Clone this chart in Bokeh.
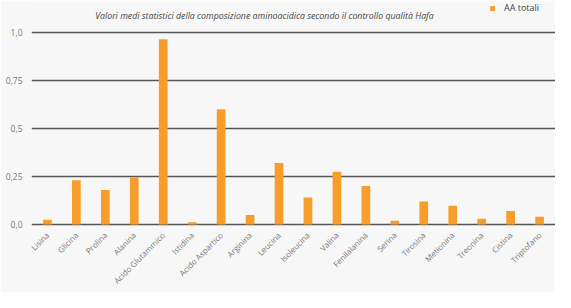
import math
from bokeh.plotting import figure
from bokeh.models import (ColumnDataSource, FactorRange, Range1d, FixedTicker,
                          Label, Legend, LegendItem)
from bokeh.embed import file_html
from bokeh.resources import INLINE

categories = ["Lisina", "Glicina", "Prolina", "Alanina", "Acido Glutammico",
              "Istidina", "Acido Aspartico", "Arginina", "Leucina", "Isoleucina",
              "Valina", "Fenilalanina", "Serina", "Tirosina", "Metionina",
              "Treonina", "Cistina", "Triptofano"]
aa_totali = [0.025, 0.23, 0.18, 0.245, 0.965, 0.012, 0.60, 0.05, 0.32, 0.14,
             0.275, 0.20, 0.02, 0.12, 0.098, 0.03, 0.07, 0.04]
y_ticks = [0.0, 0.25, 0.5, 0.75, 1.0]
y_tick_labels = ["0,0", "0,25", "0,5", "0,75", "1,0"]
subtitle = "Valori medi statistici della composizione aminoacidica secondo il controllo qualità Hafa"
series_name = "AA totali"

BG = "#f7f7f7"
ORANGE = "#f79d2b"
FONT = "Open Sans"

src = ColumnDataSource(dict(cat=categories, val=aa_totali))

p = figure(width=555, height=292, output_backend="svg", toolbar_location=None,
           x_range=FactorRange(*categories, range_padding=0.05,
                               range_padding_units="absolute"),
           y_range=Range1d(-0.0104, 1.1667),
           min_border_left=31, min_border_right=0, min_border_top=0,
           min_border_bottom=66)
p.background_fill_color = BG
p.border_fill_color = BG
p.outline_line_color = None

bars = p.vbar(x="cat", top="val", width=0.3, source=src, color=ORANGE,
              line_color=None)

p.xgrid.grid_line_color = None
p.ygrid.grid_line_color = "#555555"
p.ygrid.grid_line_width = 1.4
p.ygrid.ticker = FixedTicker(ticks=y_ticks)

p.yaxis.ticker = FixedTicker(ticks=y_ticks)
p.yaxis.major_label_overrides = {t: l for t, l in zip(y_ticks, y_tick_labels)}
p.yaxis.axis_line_color = None
p.yaxis.major_tick_line_color = None
p.yaxis.minor_tick_line_color = None
p.yaxis.major_label_standoff = 3
p.yaxis.major_label_text_font = FONT
p.yaxis.major_label_text_font_size = "8.5px"
p.yaxis.major_label_text_color = "#777777"

p.xaxis.axis_line_color = None
p.xaxis.major_tick_line_color = None
p.xaxis.major_label_orientation = math.pi / 4
p.xaxis.major_label_standoff = 1
p.xaxis.major_label_text_font = FONT
p.xaxis.major_label_text_font_size = "8px"
p.xaxis.major_label_text_color = "#777777"

p.add_layout(Label(x=233, y=1.0885, x_units="screen", y_units="data",
                   text=subtitle, text_align="center", text_baseline="middle",
                   text_font=FONT, text_font_style="italic",
                   text_font_size="8.8px", text_color="#444444"))

legend = Legend(items=[LegendItem(label=series_name, renderers=[bars])],
                location=(458, 212), orientation="horizontal",
                margin=0, padding=0, spacing=0,
                glyph_width=6, glyph_height=6, label_standoff=9,
                label_text_font=FONT, label_text_font_size="9px",
                label_text_color="#444444", label_height=8,
                background_fill_alpha=0, border_line_color=None)
p.add_layout(legend)

open("out.html", "w").write(file_html(p, INLINE))
